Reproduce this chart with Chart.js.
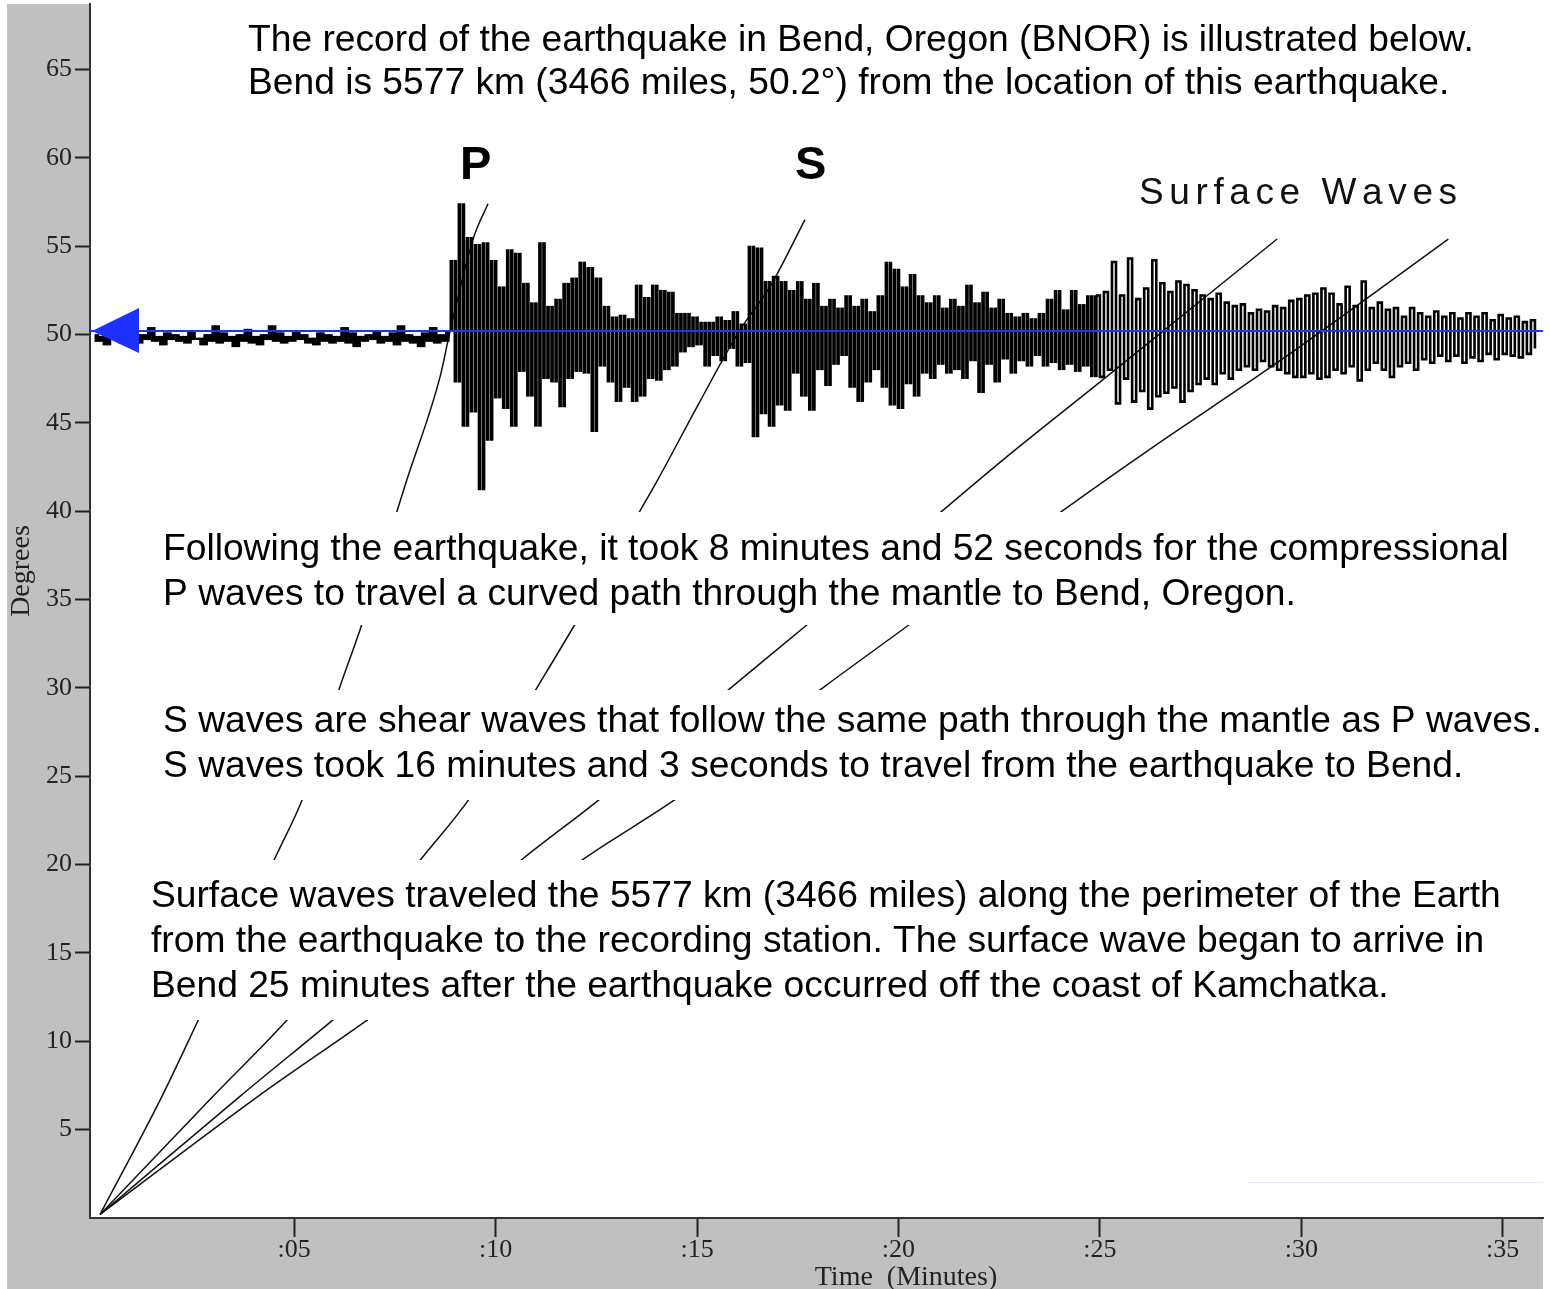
<!DOCTYPE html>
<html>
<head>
<meta charset="utf-8">
<script src="https://cdn.jsdelivr.net/npm/chart.js@4.4.1/dist/chart.umd.min.js"></script>
<style>
html,body{margin:0;padding:0;background:#fff;}
#wrap{width:1550px;height:1289px;position:relative;}
</style>
</head>
<body>
<div id="wrap"><canvas id="c" width="1550" height="1289"></canvas></div>
<script>
// ---------- axis data ----------
const xMin = -0.07, xMax = 36.0;
const yMin = 0.0, yMax = 68.7;
const xTickValues = [5, 10, 15, 20, 25, 30, 35];
const xTickLabels = [':05', ':10', ':15', ':20', ':25', ':30', ':35'];
const yTickValues = [5, 10, 15, 20, 25, 30, 35, 40, 45, 50, 55, 60, 65];
const stationDistance = 50.2; // degrees, Bend (BNOR)

// ---------- travel-time curves (minutes, degrees) ----------
const pCurveTime = [0.18, 1.72, 2.66, 4.57, 5.22, 6.14, 6.68, 7.55, 7.80, 8.62, 8.87, 9.44, 9.81];
const pCurveDeg  = [0.2, 6.9, 11.4, 20.6, 23.8, 30.1, 33.6, 40.0, 41.8, 47.6, 50.2, 55.4, 57.4];
const sCurveTime = [0.18, 2.99, 4.90, 8.25, 9.37, 11.05, 11.97, 13.58, 14.03, 15.07, 16.05, 16.81, 17.68];
const sCurveDeg  = [0.2, 6.9, 11.4, 20.6, 23.8, 30.1, 33.6, 40.0, 41.8, 46.2, 50.2, 52.7, 56.5];
const surf1Time  = [0.18, 3.66, 6.06, 10.66, 12.64, 15.89, 17.80, 21.08, 22.70, 25.0, 29.40];
const surf1Deg   = [0.2, 6.9, 11.4, 20.3, 23.8, 30.1, 33.7, 40.0, 43.1, 47.3, 55.4];
const surf2Time  = [0.18, 4.11, 6.93, 12.17, 14.53, 18.18, 20.34, 24.06, 26.30, 29.40, 33.65];
const surf2Deg   = [0.2, 6.9, 11.4, 20.3, 23.8, 30.1, 33.7, 40.0, 43.6, 48.4, 55.4];

// ---------- seismogram trace (degrees, one sample every 0.1 min from t = 0) ----------
const traceStart = 0, traceStep = 0.1;
const traceQuiet = [
 50.0,49.6,49.9,49.4,50.1,49.7,49.9,49.5,50.2,49.6,
 49.8,49.5,50.0,49.7,50.4,49.6,49.9,49.4,50.1,49.7,
 50.0,49.6,49.9,49.5,50.2,49.7,49.8,49.4,50.0,49.6,
 50.5,49.5,50.1,49.6,49.9,49.3,50.0,49.6,50.3,49.5,
 49.9,49.4,50.0,49.7,50.5,49.6,50.1,49.5,49.9,49.6,
 50.2,49.7,50.0,49.5,49.8,49.4,50.1,49.6,50.0,49.5,
 49.9,49.6,50.4,49.5,50.1,49.3,49.9,49.6,50.0,49.7,
 50.2,49.5,49.9,49.6,50.1,49.4,50.5,49.6,50.0,49.5,
 49.9,49.3,50.1,49.6,50.4,49.5,50.0,49.6,50.2];
const tracePWaves = [
 54.2,47.3,57.4,44.8,55.5,45.6,55.1,41.2,55.2,44.0,
 54.2,46.4,52.7,45.8,54.8,44.8,54.6,47.9,52.9,46.5,
 51.8,44.8,55.2,47.5,51.6,47.3,52.0,45.9,52.9,47.5,
 53.2,47.9,54.1,47.8,53.8,44.5,53.2,48.2,51.6,47.3,
 51.0,46.2,51.1,47.0,50.9,46.2,52.8,46.5,52.1,47.5,
 52.8,47.4,52.5,48.0,52.4,48.2,51.2,49.0,51.2,49.3,
 51.0,49.4,50.7,48.2,50.7,48.8,51.0,48.5,50.8,49.2,
 51.3];
const traceSWaves = [
 48.2,50.6,48.4,55.0,44.2,54.9,45.5,53.0,44.8,53.3,
 46.0,53.0,45.7,52.5,47.8,53.0,46.5,52.0,45.7,52.9,
 48.0,51.6,47.1,52.0,48.3,51.5,48.8,52.2,47.0,51.6,
 46.2,52.0,47.3,51.3,48.0,52.2,47.0,54.1,46.0,53.7,
 45.8,52.7,47.2,53.4,46.5,52.2,47.8,51.8,47.5,52.2,
 48.3,51.5,47.8,52.0,48.0,51.6,47.5,52.8,48.5,51.8,
 46.7,52.4,48.3,51.5,47.3,52.0,48.6,51.2,47.8,51.0,
 48.5,51.2,48.2,50.9,48.8,51.2,48.2,52.0,48.4,52.5,
 48.0,51.4,48.3,52.5,47.9,51.7,48.2,52.2,47.6,52.2];
const traceSurface = [
 47.6,52.4,48.0,54.1,46.1,52.2,47.5,54.3,46.2,52.0,
 46.8,52.6,45.8,54.2,46.5,52.9,46.7,52.4,47.0,53.0,
 46.2,52.8,46.8,52.5,47.2,52.2,47.5,52.0,47.2,52.3,
 47.8,51.8,47.5,51.6,48.0,51.7,48.2,51.2,48.0,51.4,
 48.5,51.3,48.2,51.6,48.0,51.5,47.8,51.9,47.6,52.0,
 47.6,52.2,47.8,52.3,47.5,52.6,47.6,52.3,48.0,51.7,
 47.8,52.7,48.2,51.6,47.4,53.0,48.0,51.5,48.4,51.8,
 48.0,51.4,47.6,51.5,48.2,51.0,48.4,51.5,48.0,51.2,
 48.6,51.0,48.4,51.3,48.8,51.0,48.5,51.2,48.8,50.9,
 48.4,51.2,48.7,51.0,48.5,51.2,48.9,50.8,48.6,51.1,
 48.9,50.9,48.8,51.0,48.7,50.7,48.9,50.8,49.2];

// ---------- annotation text ----------
const headerLines = [
 'The record of the earthquake in Bend, Oregon (BNOR) is illustrated below.',
 'Bend is 5577 km (3466 miles, 50.2\u00B0) from the location of this earthquake.'];
const pParagraph = [
 'Following the earthquake, it took 8 minutes and 52 seconds for the compressional',
 'P waves to travel a curved path through the mantle to Bend, Oregon.'];
const sParagraph = [
 'S waves are shear waves that follow the same path through the mantle as P waves.',
 'S waves took 16 minutes and 3 seconds to travel from the earthquake to Bend.'];
const surfaceParagraph = [
 'Surface waves traveled the 5577 km (3466 miles) along the perimeter of the Earth',
 'from the earthquake to the recording station. The surface wave began to arrive in',
 'Bend 25 minutes after the earthquake occurred off the coast of Kamchatka.'];
const yTitle = 'Degrees';
const xTitle = 'Time  (Minutes)';

// ---------- build datasets ----------
const toPts = (ts, ds) => ts.map((t, i) => ({x: t, y: ds[i]}));
const tAt = i => traceStart + i * traceStep;

// body-wave part of the record: each sample drawn as a vertical stroke from the previous sample
const barSegments = [traceQuiet, tracePWaves, traceSWaves];
const barWidths = [4, 3, 3];
const traceSets = [];
let idx = 0, prev = null;
barSegments.forEach((seg, k) => {
  const bars = [];
  seg.forEach((v, j) => {
    if (prev !== null) bars.push({x: tAt(idx + j), y: [Math.min(prev, v), Math.max(prev, v)]});
    prev = v;
  });
  idx += seg.length;
  traceSets.push({type: 'bar', label: 'Seismogram ' + k, data: bars, backgroundColor: '#000',
    borderWidth: 0, barThickness: barWidths[k], grouped: false, order: 1});
});
// surface-wave part: stepped trace
const surfPts = [{x: tAt(idx - 1), y: prev}];
traceSurface.forEach((v, j) => surfPts.push({x: tAt(idx + j), y: v}));
traceSets.push({type: 'line', label: 'Seismogram surface', data: surfPts, borderColor: '#000', borderWidth: 2.6,
  pointRadius: 0, stepped: true, order: 1});

const SANS = "'Liberation Sans', Arial, Helvetica, sans-serif";
const SERIF = "'Liberation Serif', 'Times New Roman', Times, serif";

const curveStyle = {type: 'line', borderColor: '#111', borderWidth: 1.5, pointRadius: 0, cubicInterpolationMode: 'monotone', fill: false, order: 3};

const deco = {
  id: 'deco',
  beforeDraw(chart) {
    const ctx = chart.ctx, a = chart.chartArea;
    ctx.save();
    ctx.fillStyle = '#ffffff';
    ctx.fillRect(0, 0, chart.width, chart.height);
    ctx.fillStyle = '#c0c0c0';
    ctx.fillRect(7, 4, 1536, 1285);
    ctx.fillStyle = '#ffffff';
    ctx.fillRect(a.left, 0, a.right - a.left, a.bottom);
    ctx.restore();
  },
  afterDatasetsDraw(chart) {
    const ctx = chart.ctx, a = chart.chartArea;
    const xs = chart.scales.x, ys = chart.scales.y;
    ctx.save();
    // white panels behind the paragraphs
    ctx.fillStyle = '#ffffff';
    ctx.fillRect(140, 512, a.right - 140, 113);
    ctx.fillRect(140, 690, a.right - 140, 110);
    ctx.fillRect(140, 860, a.right - 140, 160);
    // faint box edge
    ctx.strokeStyle = '#e8e8ff';
    ctx.lineWidth = 1;
    ctx.beginPath(); ctx.moveTo(1248, 1182.5); ctx.lineTo(a.right, 1182.5); ctx.stroke();

    // blue arrow at start of the station line
    const yb = ys.getPixelForValue(stationDistance);
    const x0 = xs.getPixelForValue(xMin) + 2;
    ctx.fillStyle = '#1e32ff';
    ctx.beginPath();
    ctx.moveTo(x0, yb);
    ctx.lineTo(x0 + 47, yb - 23);
    ctx.lineTo(x0 + 47, yb + 22);
    ctx.closePath();
    ctx.fill();

    // texts
    ctx.fillStyle = '#000';
    ctx.textBaseline = 'middle';
    ctx.textAlign = 'left';
    ctx.font = '37.2px ' + SANS;
    const drawLines = (lines, x, y0, dy) => lines.forEach((s, i) => ctx.fillText(s, x, y0 + i * dy));
    drawLines(headerLines, 248, 41, 43);
    drawLines(pParagraph, 163, 550, 45);
    drawLines(sParagraph, 163, 722, 45);
    drawLines(surfaceParagraph, 151, 897, 45);

    ctx.font = 'bold 47px ' + SANS;
    ctx.fillText('P', 460, 166);
    ctx.fillText('S', 795, 166);

    // letter-spaced label
    ctx.font = '37px ' + SANS;
    ctx.fillStyle = '#111';
    let cx = 1139;
    for (const ch of 'Surface Waves') {
      ctx.fillText(ch, cx, 194);
      cx += ctx.measureText(ch).width + 5.6;
    }
    ctx.restore();
  },
  afterDraw(chart) {
    const ctx = chart.ctx;
    ctx.save();
    ctx.fillStyle = '#222';
    ctx.font = '28px ' + SERIF;
    ctx.textAlign = 'center';
    ctx.textBaseline = 'middle';
    ctx.fillText(xTitle, 906, 1278);
    ctx.translate(22, 571);
    ctx.rotate(-Math.PI / 2);
    ctx.fillText(yTitle, 0, 0);
    ctx.restore();
  }
};

new Chart(document.getElementById('c'), {
  type: 'line',
  data: {
    datasets: [
      {type: 'line', label: 'Station', data: [{x: xMin, y: stationDistance}, {x: xMax, y: stationDistance}],
       borderColor: '#1e32ff', borderWidth: 2, pointRadius: 0, order: 0},
      ...traceSets,
      Object.assign({label: 'P', data: toPts(pCurveTime, pCurveDeg)}, curveStyle),
      Object.assign({label: 'S', data: toPts(sCurveTime, sCurveDeg)}, curveStyle),
      Object.assign({label: 'Surface 1', data: toPts(surf1Time, surf1Deg)}, curveStyle),
      Object.assign({label: 'Surface 2', data: toPts(surf2Time, surf2Deg)}, curveStyle)
    ]
  },
  options: {
    responsive: false,
    animation: false,
    devicePixelRatio: 1,
    layout: {padding: {left: 7, top: 4, right: 7, bottom: 0}},
    plugins: {legend: {display: false}, tooltip: {enabled: false}},
    scales: {
      x: {
        type: 'linear', min: xMin, max: xMax, offset: false,
        afterBuildTicks: s => { s.ticks = xTickValues.map(v => ({value: v})); },
        afterFit: s => { s.height = 71; s.paddingLeft = 0; s.paddingRight = 0; },
        grid: {drawOnChartArea: false, drawTicks: true, tickLength: 19, tickColor: '#222', tickWidth: 2, offset: false},
        border: {display: true, color: '#333', width: 2},
        ticks: {
          autoSkip: false, maxRotation: 0, padding: 0, color: '#222',
          font: {family: SERIF, size: 26, lineHeight: 1},
          callback: v => { const k = xTickValues.indexOf(v); return k >= 0 ? xTickLabels[k] : ''; }
        }
      },
      y: {
        type: 'linear', min: yMin, max: yMax,
        afterBuildTicks: s => { s.ticks = yTickValues.map(v => ({value: v})); },
        afterFit: s => { s.width = 83; s.paddingTop = 0; s.paddingBottom = 0; },
        grid: {drawOnChartArea: false, drawTicks: true, tickLength: 15, tickColor: '#222', tickWidth: 2},
        border: {display: true, color: '#333', width: 2},
        ticks: {
          autoSkip: false, padding: 3, color: '#222',
          font: {family: SERIF, size: 26},
          callback: v => String(v)
        }
      }
    }
  },
  plugins: [deco]
});
</script>
</body>
</html>
